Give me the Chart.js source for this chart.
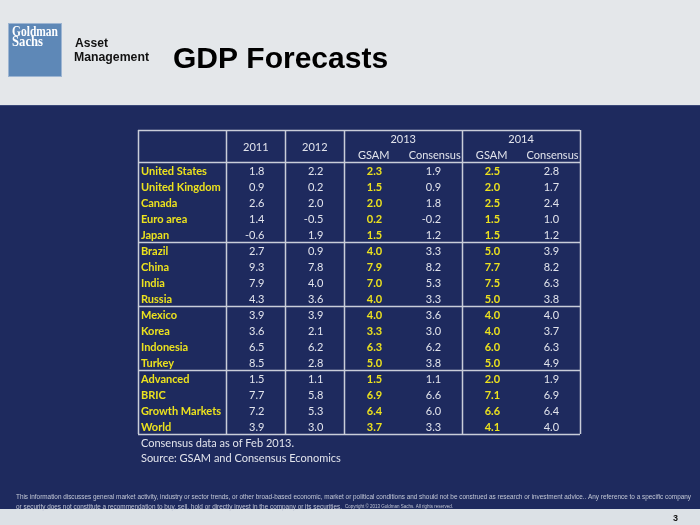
<!DOCTYPE html>
<html>
<head>
<meta charset="utf-8">
<script src="https://cdn.jsdelivr.net/npm/chart.js@4.4.1/dist/chart.umd.min.js"></script>
<style>
html,body{margin:0;padding:0;background:#1e2a5e;}
#wrap{width:700px;height:525px;position:relative;}
canvas{display:block;}
</style>
</head>
<body>
<div id="wrap"><canvas id="c" width="700" height="525"></canvas></div>
<script>
// ---- Data ----
const countries = ["United States","United Kingdom","Canada","Euro area","Japan","Brazil","China","India","Russia","Mexico","Korea","Indonesia","Turkey","Advanced","BRIC","Growth Markets","World"];
const gdp2011  = [1.8,0.9,2.6,1.4,-0.6,2.7,9.3,7.9,4.3,3.9,3.6,6.5,8.5,1.5,7.7,7.2,3.9];
const gdp2012  = [2.2,0.2,2.0,-0.5,1.9,0.9,7.8,4.0,3.6,3.9,2.1,6.2,2.8,1.1,5.8,5.3,3.0];
const gsam2013 = [2.3,1.5,2.0,0.2,1.5,4.0,7.9,7.0,4.0,4.0,3.3,6.3,5.0,1.5,6.9,6.4,3.7];
const cons2013 = [1.9,0.9,1.8,-0.2,1.2,3.3,8.2,5.3,3.3,3.6,3.0,6.2,3.8,1.1,6.6,6.0,3.3];
const gsam2014 = [2.5,2.0,2.5,1.5,1.5,5.0,7.7,7.5,5.0,4.0,4.0,6.0,5.0,2.0,7.1,6.6,4.1];
const cons2014 = [2.8,1.7,2.4,1.0,1.2,3.9,8.2,6.3,3.8,4.0,3.7,6.3,4.9,1.9,6.9,6.4,4.0];
const columnLabels = ["2011","2012","GSAM","Consensus","GSAM","Consensus"];
const yearGroups = ["2013","2014"];
const groupBreaks = [4, 8, 12]; // row index after which a separator line is drawn
const notes = ["Consensus data as of Feb 2013.","Source: GSAM and Consensus Economics"];
const title = "GDP Forecasts";

const series = [
  {label:"2011", values:gdp2011, col:2.0, bold:false},
  {label:"2012", values:gdp2012, col:3.0, bold:false},
  {label:"2013 GSAM", values:gsam2013, col:4.0, bold:true},
  {label:"2013 Consensus", values:cons2013, col:5.0, bold:false},
  {label:"2014 GSAM", values:gsam2014, col:6.0, bold:true},
  {label:"2014 Consensus", values:cons2014, col:7.0, bold:false}
];

const NAVY = "#1e2a5e", YELLOW = "#ece21e", WHITE = "#e2e4ec", LINE = "#c9cdd9";
const FONT = "Lato, 'Open Sans', sans-serif";
const FS = "11px ";

const tablePlugin = {
  id: "tablePlugin",
  beforeDraw(chart) {
    const ctx = chart.ctx;
    const W = chart.width, H = chart.height;
    ctx.save();
    // backgrounds
    ctx.fillStyle = "#e4e7ea"; ctx.fillRect(0,0,W,105);
    ctx.fillStyle = NAVY; ctx.fillRect(0,105,W,404);
    ctx.fillStyle = "#3a4878"; ctx.fillRect(0,105,W,1);
    ctx.fillStyle = "#dce1e6"; ctx.fillRect(0,509,W,16);
    // logo
    ctx.fillStyle = "#5e88b7"; ctx.fillRect(8,23,54,54);
    ctx.strokeStyle = "#9db5d2"; ctx.lineWidth = 1; ctx.strokeRect(8.5,23.5,53,53);
    ctx.fillStyle = "#ffffff";
    ctx.font = "bold 14px 'Liberation Serif', serif";
    ctx.textBaseline = "alphabetic"; ctx.textAlign = "left";
    ctx.fillText("Goldman", 12, 36, 46);
    ctx.fillText("Sachs", 12, 45.5, 31);
    ctx.fillStyle = "#111";
    ctx.font = "bold 13px 'Liberation Sans', Arial, sans-serif";
    ctx.fillText("Asset", 75, 46.5, 33);
    ctx.fillText("Management", 74, 60.5, 75);
    // title
    ctx.font = "bold 30px 'Liberation Sans', Arial, sans-serif";
    ctx.fillStyle = "#000";
    ctx.fillText(title, 173, 68, 220);
    // footer
    ctx.fillStyle = "#c3c8d6";
    ctx.font = "7.5px 'Liberation Sans', Arial, sans-serif";
    ctx.fillText("This information discusses general market activity, industry or sector trends, or other broad-based economic, market or political conditions and should not be construed as research or investment advice.. Any reference to a specific company", 16, 499, 675);
    ctx.fillText("or security does not constitute a recommendation to buy, sell, hold or directly invest in the company or its securities.", 16, 509, 326);
    ctx.font = "4.5px 'Liberation Sans', Arial, sans-serif";
    ctx.fillText("Copyright \u00A9 2013 Goldman Sachs. All rights reserved.", 345, 508, 115);
    ctx.fillStyle = "#111";
    ctx.font = "bold 9px 'Liberation Sans', Arial, sans-serif";
    ctx.fillText("3", 673, 521);

    // table grid through scales
    const xs = chart.scales.x, ys = chart.scales.y;
    const X = v => xs.getPixelForValue(v), Y = v => ys.getPixelForValue(v);
    ctx.strokeStyle = LINE; ctx.lineWidth = 1.5;
    const vLines = [0, 1.5, 2.5, 3.5, 5.5, 7.5];
    vLines.forEach(v => { ctx.beginPath(); ctx.moveTo(Math.round(X(v))+0.5, Y(0)); ctx.lineTo(Math.round(X(v))+0.5, Y(2 + countries.length)); ctx.stroke(); });
    const hLines = [0, 2].concat(groupBreaks.map(r => 2 + r + 1)).concat([2 + countries.length]);
    hLines.forEach(v => { ctx.beginPath(); ctx.moveTo(X(0), Math.round(Y(v))+0.5); ctx.lineTo(X(7.5), Math.round(Y(v))+0.5); ctx.stroke(); });

    // headers
    ctx.fillStyle = WHITE;
    ctx.font = FS + FONT;
    ctx.textAlign = "center"; ctx.textBaseline = "middle";
    ctx.fillText(columnLabels[0], X(2.0), Y(1.0)+1);
    ctx.fillText(columnLabels[1], X(3.0), Y(1.0)+1);
    ctx.fillText(yearGroups[0], X(4.5), Y(0.5)+1.5);
    ctx.fillText(yearGroups[1], X(6.5), Y(0.5)+1.5);
    [4.0,5.0,6.0,7.0].forEach((c,i) => {
      const t = columnLabels[i+2];
      const dx = t === "Consensus" ? 2 : 0;
      ctx.fillText(t, X(c)+dx, Y(1.5)+1.5);
    });
    // country names
    ctx.textAlign = "left";
    ctx.fillStyle = YELLOW;
    ctx.font = "bold " + FS + FONT;
    countries.forEach((n,i) => ctx.fillText(n, X(0.05), Y(2.5+i)+1));
    // notes
    ctx.fillStyle = WHITE;
    ctx.font = FS + FONT;
    ctx.fillText(notes[0], X(0.05), Y(2 + countries.length + 0.6));
    ctx.fillText(notes[1], X(0.05), Y(2 + countries.length + 1.5));
    ctx.restore();
  },
  afterDatasetsDraw(chart) {
    const ctx = chart.ctx;
    ctx.save();
    ctx.textAlign = "right"; ctx.textBaseline = "middle";
    chart.data.datasets.forEach((ds, di) => {
      const meta = chart.getDatasetMeta(di);
      ctx.fillStyle = ds.bold ? YELLOW : WHITE;
      ctx.font = (ds.bold ? "bold " : "") + FS + FONT;
      meta.data.forEach((el, i) => {
        const v = ds.data[i].v;
        ctx.fillText(v.toFixed(1), el.x + 8.5, el.y + 1);
      });
    });
    ctx.restore();
  }
};

new Chart(document.getElementById("c"), {
  type: "scatter",
  data: {
    datasets: series.map(s => ({
      label: s.label,
      bold: s.bold,
      data: s.values.map((v, i) => ({x: s.col, y: 2.5 + i, v: v})),
      pointRadius: 0,
      pointHoverRadius: 0
    }))
  },
  options: {
    responsive: false,
    animation: false,
    devicePixelRatio: 1,
    layout: {padding: {left: 138, right: 120, top: 130, bottom: 91}},
    plugins: {legend: {display: false}, tooltip: {enabled: false}},
    events: [],
    scales: {
      x: {type: "linear", min: 0, max: 7.5, display: false},
      y: {type: "linear", min: 0, max: 19, reverse: true, display: false}
    }
  },
  plugins: [tablePlugin]
});
</script>
</body>
</html>
